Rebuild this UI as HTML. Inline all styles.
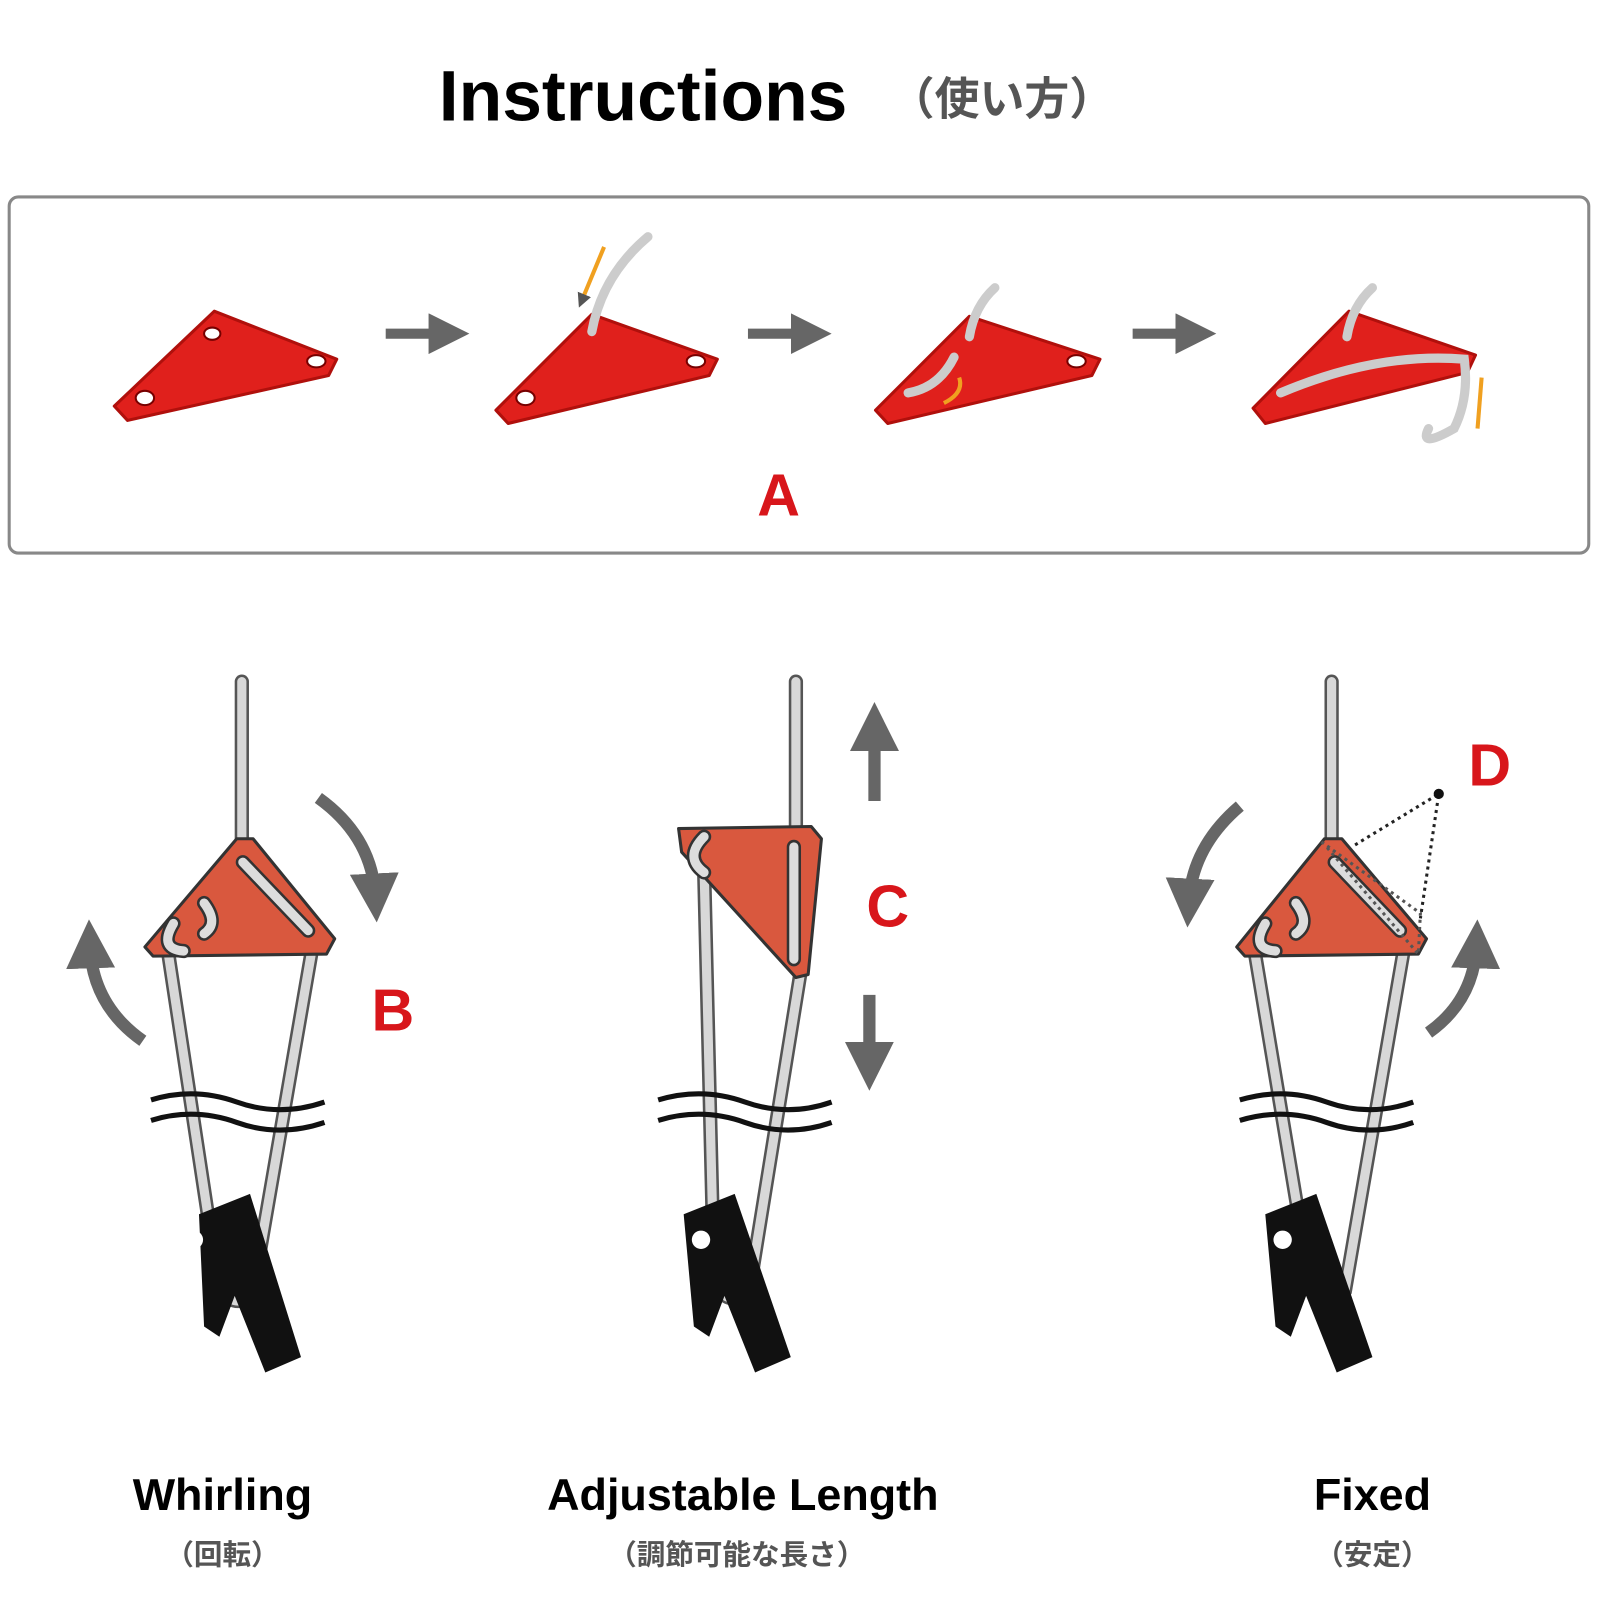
<!DOCTYPE html>
<html><head><meta charset="utf-8"><style>
html,body{margin:0;padding:0;background:#fff;width:1600px;height:1600px;overflow:hidden}
svg{display:block}
</style></head><body>
<svg width="1600" height="1600" viewBox="0 0 1600 1600" xmlns="http://www.w3.org/2000/svg">
<defs>
<marker id="ah" viewBox="0 0 10 10" refX="5" refY="5" markerWidth="4" markerHeight="4" orient="auto"><path d="M0,0 L10,5 L0,10z" fill="#666"/></marker>
<marker id="ah2" viewBox="0 0 10 10" refX="5" refY="5" markerWidth="3.5" markerHeight="3.5" orient="auto"><path d="M0,0 L10,5 L0,10z" fill="#555"/></marker>
</defs>
<g transform="scale(1.0204)">
<text x="430" y="118" font-family="Liberation Sans, sans-serif" font-weight="bold" font-size="70" fill="#000">Instructions</text>
<text x="872" y="112" font-family="Liberation Sans, 'Noto Sans CJK JP', sans-serif" font-weight="bold" font-size="44" fill="#555">（使い方）</text>
<rect x="9" y="193" width="1548" height="349" rx="9" fill="#fff" stroke="#888" stroke-width="3"/>
<g fill="#e0201c" stroke="#b0100c" stroke-width="3" stroke-linejoin="round">
<path d="M112,398 L210,305 L330,352 L322,368 L125,412 Z"/>
<path d="M486,402 L580,308 L703,352 L695,368 L498,415 Z"/>
<path d="M858,402 L950,310 L1078,352 L1070,368 L870,415 Z"/>
<path d="M1228,400 L1322,305 L1446,348 L1438,365 L1240,415 Z"/>
</g>
<g fill="#fff" stroke="#700" stroke-width="2">
<ellipse cx="142" cy="390" rx="9" ry="7"/><ellipse cx="208" cy="327" rx="8" ry="6"/><ellipse cx="310" cy="354" rx="9" ry="6"/>
<ellipse cx="515" cy="390" rx="9" ry="7"/><ellipse cx="682" cy="354" rx="9" ry="6"/>
<ellipse cx="1055" cy="354" rx="9" ry="6"/>
</g>
<g fill="none" stroke="#ccc" stroke-width="9" stroke-linecap="round">
<path d="M580,325 Q590,270 635,232"/>
<path d="M950,330 Q955,300 975,282"/>
<path d="M935,350 Q920,380 890,385"/>
<path d="M1320,330 Q1325,300 1345,282"/>
<path d="M1255,385 Q1350,345 1435,352 Q1440,390 1425,420 Q1390,440 1400,420"/>
</g>
<path d="M592,242 L570,295" stroke="#f0a020" stroke-width="4" marker-end="url(#ah2)" fill="none"/>
<path d="M925,395 Q945,385 940,370" stroke="#f0a020" stroke-width="4" fill="none"/>
<path d="M1452,370 L1448,420" stroke="#f0a020" stroke-width="4" fill="none"/>
<g stroke="#666" stroke-width="10" fill="none">
<line x1="378" y1="327" x2="440" y2="327" marker-end="url(#ah)"/>
<line x1="733" y1="327" x2="795" y2="327" marker-end="url(#ah)"/>
<line x1="1110" y1="327" x2="1172" y2="327" marker-end="url(#ah)"/>
</g>
<text x="763" y="505" text-anchor="middle" font-family="Liberation Sans, sans-serif" font-weight="bold" font-size="58" fill="#d8161b">A</text>

<g fill="none" stroke-linecap="round">
<g stroke="#555" stroke-width="14">
<line x1="237" y1="668" x2="237" y2="830"/><path d="M165,935 L215,1265 Q235,1285 248,1265 L305,935"/>
<line x1="780" y1="668" x2="780" y2="815"/><path d="M690,850 L700,1260 Q720,1285 735,1260 L785,950"/>
<line x1="1305" y1="668" x2="1305" y2="830"/><path d="M1230,935 L1285,1265 Q1305,1285 1318,1265 L1375,935"/>
</g>
<g stroke="#d8d8d8" stroke-width="9">
<line x1="237" y1="668" x2="237" y2="830"/><path d="M165,935 L215,1265 Q235,1285 248,1265 L305,935"/>
<line x1="780" y1="668" x2="780" y2="815"/><path d="M690,850 L700,1260 Q720,1285 735,1260 L785,950"/>
<line x1="1305" y1="668" x2="1305" y2="830"/><path d="M1230,935 L1285,1265 Q1305,1285 1318,1265 L1375,935"/>
</g>
</g>
<g fill="#111">
<path d="M195,1190 L245,1170 L295,1330 L260,1345 L230,1270 L215,1310 L200,1300 Z"/>
<path d="M670,1190 L720,1170 L775,1330 L740,1345 L710,1270 L695,1310 L680,1300 Z"/>
<path d="M1240,1190 L1290,1170 L1345,1330 L1310,1345 L1280,1270 L1265,1310 L1250,1300 Z"/>
</g>
<g fill="#fff"><circle cx="190" cy="1215" r="9"/><circle cx="687" cy="1215" r="9"/><circle cx="1257" cy="1215" r="9"/></g>
<g fill="none" stroke="#111" stroke-width="5">
<path d="M148,1078 Q190,1065 232,1080 T318,1080"/><path d="M148,1098 Q190,1085 232,1100 T318,1100"/>
<path d="M645,1078 Q688,1065 730,1080 T815,1080"/><path d="M645,1098 Q688,1085 730,1100 T815,1100"/>
<path d="M1215,1078 Q1258,1065 1300,1080 T1385,1080"/><path d="M1215,1098 Q1258,1085 1300,1100 T1385,1100"/>
</g>
<g fill="#d9583e" stroke="#333" stroke-width="3" stroke-linejoin="round">
<path d="M142,928 L232,822 L248,822 L328,920 L320,935 L150,937 Z"/>
<path d="M665,812 L795,810 L805,822 L792,955 L780,958 L668,835 Z"/>
<path d="M1212,928 L1298,822 L1315,822 L1398,920 L1390,935 L1220,937 Z"/>
</g>
<g fill="none" stroke="#333" stroke-width="14" stroke-linecap="round">
<line x1="238" y1="845" x2="302" y2="912"/><line x1="778" y1="830" x2="778" y2="940"/><line x1="1308" y1="845" x2="1372" y2="912"/>
<path d="M170,905 Q155,930 180,932 M200,885 Q215,905 200,915"/>
<path d="M690,820 Q670,840 690,855"/>
<path d="M1240,905 Q1225,930 1250,932 M1270,885 Q1285,905 1270,915"/>
</g>
<g fill="none" stroke="#ddd" stroke-width="9" stroke-linecap="round">
<line x1="238" y1="845" x2="302" y2="912"/><line x1="778" y1="830" x2="778" y2="940"/><line x1="1308" y1="845" x2="1372" y2="912"/>
<path d="M170,905 Q155,930 180,932 M200,885 Q215,905 200,915"/>
<path d="M690,820 Q670,840 690,855"/>
<path d="M1240,905 Q1225,930 1250,932 M1270,885 Q1285,905 1270,915"/>
</g>
<g fill="none" stroke="#666" stroke-width="12">
<path d="M312,782 Q365,820 368,880" marker-end="url(#ah)"/>
<path d="M140,1020 Q90,985 88,925" marker-end="url(#ah)"/>
<path d="M1215,790 Q1168,830 1165,885" marker-end="url(#ah)"/>
<path d="M1400,1012 Q1445,980 1447,925" marker-end="url(#ah)"/>
<line x1="857" y1="785" x2="857" y2="712" marker-end="url(#ah)"/>
<line x1="852" y1="975" x2="852" y2="1045" marker-end="url(#ah)"/>
</g>
<g stroke="#222" stroke-width="3" stroke-dasharray="3,4" fill="none">
<path d="M1328,828 L1410,778 L1392,900"/>
<path d="M1295,825 L1392,895 L1390,935 L1300,830" stroke="#555"/>
</g>
<circle cx="1410" cy="778" r="5" fill="#111"/>
<g font-family="Liberation Sans, sans-serif" font-weight="bold" font-size="58" fill="#d8161b">
<text x="385" y="1010" text-anchor="middle">B</text>
<text x="870" y="908" text-anchor="middle">C</text>
<text x="1460" y="770" text-anchor="middle">D</text>
</g>
<g font-family="Liberation Sans, sans-serif" font-weight="bold" font-size="44" fill="#000" text-anchor="middle">
<text x="218" y="1480">Whirling</text>
<text x="728" y="1480">Adjustable Length</text>
<text x="1345" y="1480">Fixed</text>
</g>
<g font-family="Liberation Sans, 'Noto Sans CJK JP', sans-serif" font-weight="bold" font-size="28" fill="#555" text-anchor="middle">
<text x="218" y="1533">（回転）</text>
<text x="722" y="1533">（調節可能な長さ）</text>
<text x="1345" y="1533">（安定）</text>
</g>
</g>
</svg>
</body></html>
